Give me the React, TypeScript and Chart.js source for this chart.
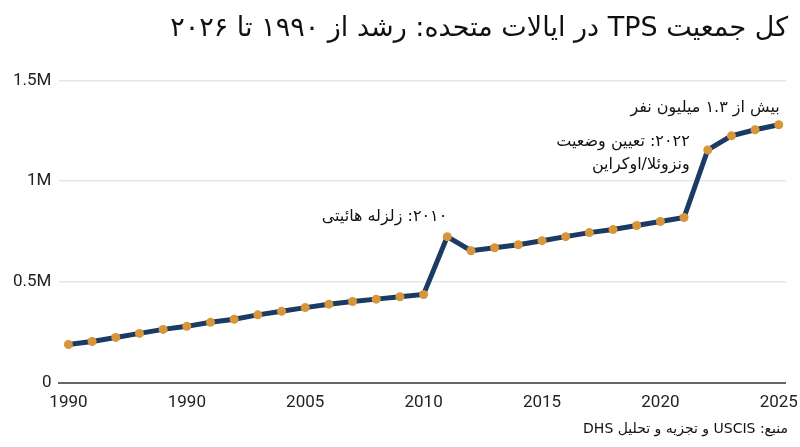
import { useEffect, useRef } from "react";
import { Chart, registerables } from "chart.js";

Chart.register(...registerables);

// one point per year (index 0 = 1995 ... index 30 = 2025)
const years = [
  1995, 1996, 1997, 1998, 1999, 2000, 2001, 2002, 2003, 2004,
  2005, 2006, 2007, 2008, 2009, 2010, 2011, 2012, 2013, 2014,
  2015, 2016, 2017, 2018, 2019, 2020, 2021, 2022, 2023, 2024, 2025,
];

// TPS population, in people
const tpsPopulation = [
  190000, 205000, 225000, 245000, 265000, 280000, 300000, 315000, 337000, 355000,
  373000, 390000, 403000, 415000, 427000, 438000, 725000, 655000, 670000, 685000,
  705000, 725000, 745000, 760000, 780000, 800000, 820000, 1155000, 1225000, 1255000, 1280000,
];

// labels as printed under the x axis, one every 5 points
const xTickLabels = ["1990", "1990", "2005", "2010", "2015", "2020", "2025"];
const yTickLabels = ["0", "0.5M", "1M", "1.5M"];

const TITLE = "کل جمعیت TPS در ایالات متحده: رشد از ۱۹۹۰ تا ۲۰۲۶";
const SOURCE = "منبع: USCIS و تجزیه و تحلیل DHS";

// text notes anchored to a point index, drawn right-aligned
const notes = [
  { index: 16, lines: ["۲۰۱۰: زلزله هائیتی"], dx: 0, dy: -20 },
  { index: 27, lines: ["۲۰۲۲: تعیین وضعیت", "ونزوئلا/اوکراین"], dx: -18, dy: -8 },
  { index: 30, lines: ["بیش از ۱.۳ میلیون نفر"], dx: 1, dy: -17 },
];

const FONT = "Roboto, 'DejaVu Sans', sans-serif";
const PERSIAN_FONT = "'DejaVu Sans', sans-serif";

const notesPlugin = {
  id: "notes",
  afterDatasetsDraw(chart: Chart) {
    const { ctx, scales } = chart;
    ctx.save();
    ctx.direction = "rtl";
    ctx.textAlign = "right";
    ctx.textBaseline = "middle";
    ctx.fillStyle = "#111";
    ctx.font = `16px ${PERSIAN_FONT}`;
    for (const n of notes) {
      const x = scales.x.getPixelForValue(n.index) + n.dx;
      const y = scales.y.getPixelForValue(tpsPopulation[n.index]) + n.dy;
      n.lines.forEach((line, i) => {
        ctx.fillText(line, x, y + i * 23);
      });
    }
    ctx.restore();
  },
};

export default function App() {
  const canvasRef = useRef<HTMLCanvasElement | null>(null);

  useEffect(() => {
    document.body.style.margin = "0";
    if (!canvasRef.current) return;
    const chart = new Chart(canvasRef.current, {
      type: "line",
      data: {
        datasets: [
          {
            data: tpsPopulation.map((v, i) => ({ x: i, y: v })),
            borderColor: "#1b3a64",
            borderWidth: 5,
            pointBackgroundColor: "#d8963a",
            pointBorderWidth: 0,
            pointRadius: 4.5,
            tension: 0,
          },
        ],
      },
      options: {
        animation: false,
        responsive: true,
        maintainAspectRatio: false,
        layout: { padding: { left: 5, right: 12, top: 0, bottom: 3 } },
        plugins: {
          legend: { display: false },
          tooltip: {
            callbacks: { title: (items) => String(years[items[0].parsed.x]) },
          },
          title: {
            display: true,
            text: TITLE,
            align: "end",
            color: "#111",
            font: { family: PERSIAN_FONT, size: 27, weight: "normal" },
            padding: { top: 13, bottom: 35 },
          },
          subtitle: {
            display: true,
            position: "bottom",
            text: SOURCE,
            align: "end",
            color: "#111",
            font: { family: PERSIAN_FONT, size: 14 },
            padding: { top: 6, bottom: 6 },
          },
        },
        scales: {
          x: {
            type: "linear",
            min: -0.38,
            max: 30.3,
            grid: { display: false },
            border: { color: "#666", width: 2 },
            ticks: {
              stepSize: 5,
              includeBounds: false,
              maxRotation: 0,
              color: "#222",
              font: { family: FONT, size: 17 },
              padding: 2,
              callback: (v) => {
                const n = Number(v);
                return n % 5 === 0 ? xTickLabels[n / 5] : "";
              },
            },
          },
          y: {
            min: 0,
            max: 1500000,
            grid: { color: "#e6e6e6", lineWidth: 1.5, drawTicks: false },
            border: { display: false },
            ticks: {
              stepSize: 500000,
              color: "#222",
              font: { family: FONT, size: 17 },
              padding: 8,
              callback: (v) => yTickLabels[Math.round(Number(v) / 500000)],
            },
          },
        },
      },
      plugins: [notesPlugin],
    });
    return () => chart.destroy();
  }, []);

  return (
    <div style={{ width: 800, height: 447, position: "relative" }}>
      <canvas ref={canvasRef} dir="rtl" />
    </div>
  );
}
